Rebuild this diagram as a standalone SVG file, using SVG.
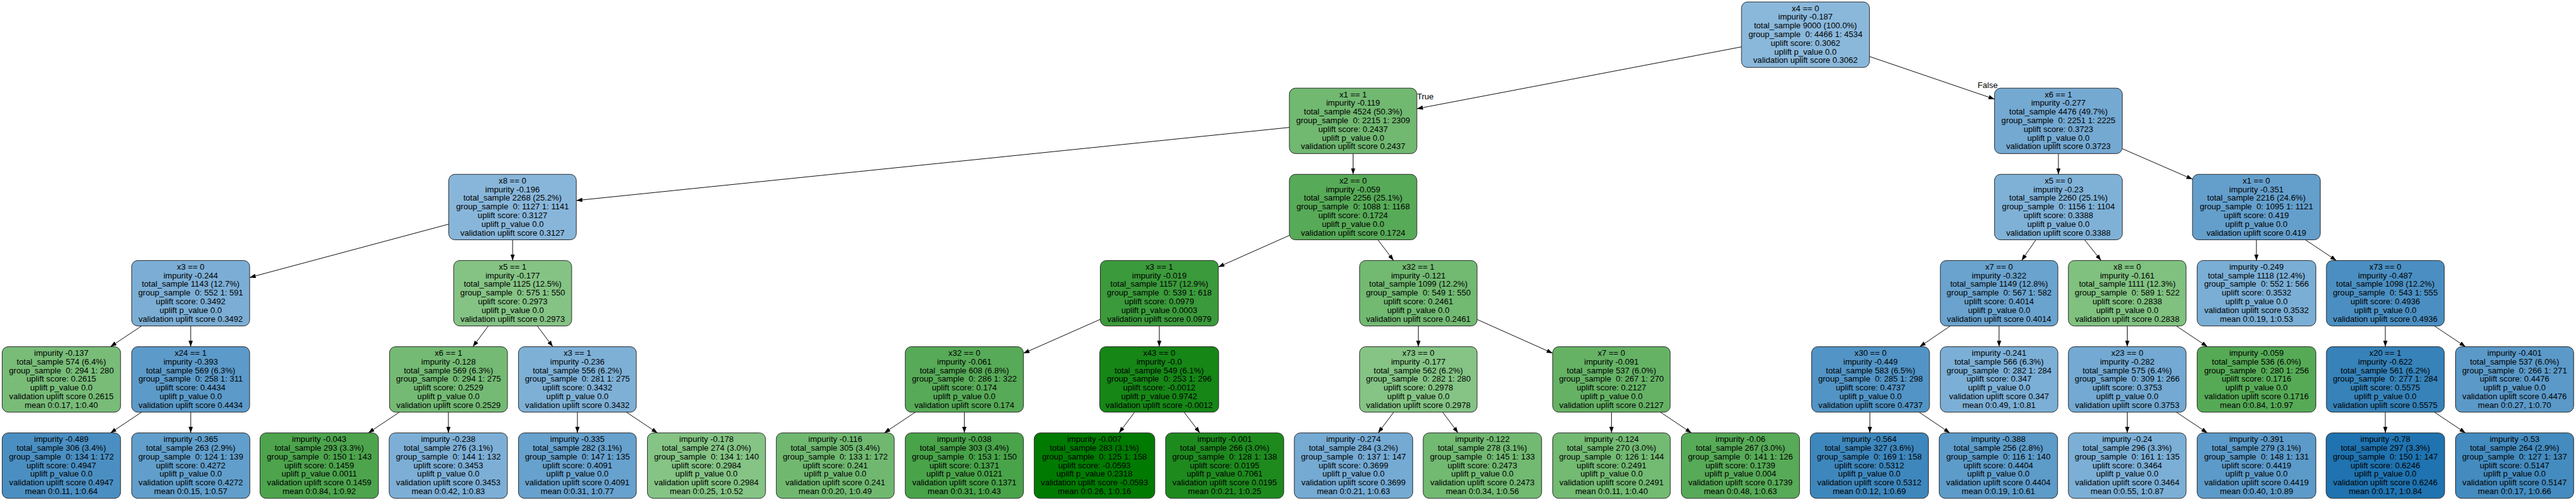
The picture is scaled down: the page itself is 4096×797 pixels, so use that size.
<svg xmlns="http://www.w3.org/2000/svg" width="4096" height="797" viewBox="0 0 4096 797">
<style>
rect{stroke:#222;stroke-width:1.4}
text{font-family:"Liberation Sans",Arial,sans-serif;font-size:19px;fill:#000;text-anchor:middle}
text.lbl{text-anchor:start}
line{stroke:#000;stroke-width:1.4;marker-end:url(#arr)}
</style>
<defs>
<marker id="arr" markerWidth="14" markerHeight="10" refX="14" refY="5" orient="auto" markerUnits="userSpaceOnUse"><path d="M0,0L14,5L0,10z" fill="#000"/></marker>
</defs>
<rect x="0" y="0" width="4096" height="797" fill="#fff" style="stroke:none"/>
<g transform="scale(0.68968)">
<g id="edges">
<line x1="4015" y1="108.1" x2="3266.6" y2="250.8"/>
<line x1="4310" y1="130.3" x2="4598.4" y2="228.6"/>
<line x1="2972.6" y1="293.9" x2="1328.7" y2="462.5"/>
<line x1="3119.6" y1="354.3" x2="3119.6" y2="402.1"/>
<line x1="4745.7" y1="354.3" x2="4745.7" y2="402.1"/>
<line x1="4893" y1="343" x2="5054.8" y2="413.4"/>
<line x1="1034.6" y1="517" x2="575.6" y2="640"/>
<line x1="1181.8" y1="553.1" x2="1181.8" y2="600.9"/>
<line x1="2972.6" y1="543" x2="2808.8" y2="615.9"/>
<line x1="3176.7" y1="553.1" x2="3212.9" y2="600.9"/>
<line x1="4693.7" y1="553.1" x2="4660.9" y2="600.9"/>
<line x1="4806" y1="553.1" x2="4844.1" y2="600.9"/>
<line x1="5202.2" y1="553.1" x2="5202.2" y2="600.9"/>
<line x1="5315" y1="553.1" x2="5386.5" y2="600.9"/>
<line x1="326.4" y1="751.9" x2="254.7" y2="799.7"/>
<line x1="439.6" y1="751.9" x2="439.6" y2="799.7"/>
<line x1="1125.8" y1="751.9" x2="1090.2" y2="799.7"/>
<line x1="1238.7" y1="751.9" x2="1274.5" y2="799.7"/>
<line x1="2536.8" y1="736.6" x2="2359.5" y2="815"/>
<line x1="2672.7" y1="751.9" x2="2672.7" y2="799.7"/>
<line x1="3270" y1="751.9" x2="3270" y2="799.7"/>
<line x1="3405.5" y1="736.9" x2="3579.7" y2="814.7"/>
<line x1="4496.4" y1="751.9" x2="4426" y2="799.7"/>
<line x1="4608.9" y1="751.9" x2="4608.9" y2="799.7"/>
<line x1="4904.4" y1="751.9" x2="4904.4" y2="799.7"/>
<line x1="5017.6" y1="751.9" x2="5089.2" y2="799.7"/>
<line x1="5499.4" y1="751.9" x2="5499.4" y2="799.7"/>
<line x1="5612.6" y1="751.9" x2="5684.2" y2="799.7"/>
<line x1="326.4" y1="950.7" x2="254.7" y2="998.5"/>
<line x1="439.7" y1="950.7" x2="439.7" y2="998.5"/>
<line x1="920.8" y1="950.7" x2="849.2" y2="998.5"/>
<line x1="1033.8" y1="950.7" x2="1033.8" y2="998.5"/>
<line x1="1331.2" y1="950.7" x2="1331.2" y2="998.5"/>
<line x1="1444.2" y1="950.7" x2="1515.8" y2="998.5"/>
<line x1="2110.3" y1="950.7" x2="2038.7" y2="998.5"/>
<line x1="2223.3" y1="950.7" x2="2223.3" y2="998.5"/>
<line x1="2615.9" y1="950.7" x2="2580" y2="998.5"/>
<line x1="2729.9" y1="950.7" x2="2766.2" y2="998.5"/>
<line x1="3213.2" y1="950.7" x2="3177.3" y2="998.5"/>
<line x1="3326.1" y1="950.7" x2="3361.6" y2="998.5"/>
<line x1="3715.3" y1="950.7" x2="3715.3" y2="998.5"/>
<line x1="3828.2" y1="950.7" x2="3899.6" y2="998.5"/>
<line x1="4311" y1="950.7" x2="4311" y2="998.5"/>
<line x1="4424.5" y1="950.7" x2="4495.4" y2="998.5"/>
<line x1="4904.4" y1="950.7" x2="4904.4" y2="998.5"/>
<line x1="5017.6" y1="950.7" x2="5089.2" y2="998.5"/>
<line x1="5499.4" y1="950.7" x2="5499.4" y2="998.5"/>
<line x1="5612.6" y1="950.7" x2="5684.2" y2="998.5"/>
<text class="lbl" x="3267" y="228.5">True</text>
<text class="lbl" x="4559.5" y="203.5">False</text>
</g>

<g id="n_root"><rect x="4015" y="4.5" width="295" height="151" rx="14" fill="#8ab8db"/><text x="4162.5" y="25.5"><tspan x="4162.5">x4 == 0</tspan><tspan x="4162.5" dy="20">impurity -0.187</tspan><tspan x="4162.5" dy="20">total_sample 9000 (100.0%)</tspan><tspan x="4162.5" dy="20">group_sample&#160; 0: 4466 1: 4534</tspan><tspan x="4162.5" dy="20">uplift score: 0.3062</tspan><tspan x="4162.5" dy="20">uplift p_value 0.0</tspan><tspan x="4162.5" dy="20">validation uplift score 0.3062</tspan></text></g>

<g id="n_A"><rect x="2972.6" y="203.3" width="294" height="151" rx="14" fill="#71b871"/><text x="3119.6" y="224.3"><tspan x="3119.6">x1 == 1</tspan><tspan x="3119.6" dy="20">impurity -0.119</tspan><tspan x="3119.6" dy="20">total_sample 4524 (50.3%)</tspan><tspan x="3119.6" dy="20">group_sample&#160; 0: 2215 1: 2309</tspan><tspan x="3119.6" dy="20">uplift score: 0.2437</tspan><tspan x="3119.6" dy="20">uplift p_value 0.0</tspan><tspan x="3119.6" dy="20">validation uplift score 0.2437</tspan></text></g>

<g id="n_B"><rect x="4598.4" y="203.3" width="294.6" height="151" rx="14" fill="#74a9d2"/><text x="4745.7" y="224.3"><tspan x="4745.7">x6 == 1</tspan><tspan x="4745.7" dy="20">impurity -0.277</tspan><tspan x="4745.7" dy="20">total_sample 4476 (49.7%)</tspan><tspan x="4745.7" dy="20">group_sample&#160; 0: 2251 1: 2225</tspan><tspan x="4745.7" dy="20">uplift score: 0.3723</tspan><tspan x="4745.7" dy="20">uplift p_value 0.0</tspan><tspan x="4745.7" dy="20">validation uplift score 0.3723</tspan></text></g>

<g id="n_C"><rect x="1034.6" y="402.1" width="294" height="151" rx="14" fill="#88b6da"/><text x="1181.6" y="423.1"><tspan x="1181.6">x8 == 0</tspan><tspan x="1181.6" dy="20">impurity -0.196</tspan><tspan x="1181.6" dy="20">total_sample 2268 (25.2%)</tspan><tspan x="1181.6" dy="20">group_sample&#160; 0: 1127 1: 1141</tspan><tspan x="1181.6" dy="20">uplift score: 0.3127</tspan><tspan x="1181.6" dy="20">uplift p_value 0.0</tspan><tspan x="1181.6" dy="20">validation uplift score 0.3127</tspan></text></g>

<g id="n_D"><rect x="2972.6" y="402.1" width="294" height="151" rx="14" fill="#57aa57"/><text x="3119.6" y="423.1"><tspan x="3119.6">x2 == 0</tspan><tspan x="3119.6" dy="20">impurity -0.059</tspan><tspan x="3119.6" dy="20">total_sample 2256 (25.1%)</tspan><tspan x="3119.6" dy="20">group_sample&#160; 0: 1088 1: 1168</tspan><tspan x="3119.6" dy="20">uplift score: 0.1724</tspan><tspan x="3119.6" dy="20">uplift p_value 0.0</tspan><tspan x="3119.6" dy="20">validation uplift score 0.1724</tspan></text></g>

<g id="n_E"><rect x="4598.4" y="402.1" width="294.6" height="151" rx="14" fill="#7fb1d7"/><text x="4745.7" y="423.1"><tspan x="4745.7">x5 == 0</tspan><tspan x="4745.7" dy="20">impurity -0.23</tspan><tspan x="4745.7" dy="20">total_sample 2260 (25.1%)</tspan><tspan x="4745.7" dy="20">group_sample&#160; 0: 1156 1: 1104</tspan><tspan x="4745.7" dy="20">uplift score: 0.3388</tspan><tspan x="4745.7" dy="20">uplift p_value 0.0</tspan><tspan x="4745.7" dy="20">validation uplift score 0.3388</tspan></text></g>

<g id="n_F"><rect x="5054.8" y="402.1" width="294.6" height="151" rx="14" fill="#649fcc"/><text x="5202.1" y="423.1"><tspan x="5202.1">x1 == 0</tspan><tspan x="5202.1" dy="20">impurity -0.351</tspan><tspan x="5202.1" dy="20">total_sample 2216 (24.6%)</tspan><tspan x="5202.1" dy="20">group_sample&#160; 0: 1095 1: 1121</tspan><tspan x="5202.1" dy="20">uplift score: 0.419</tspan><tspan x="5202.1" dy="20">uplift p_value 0.0</tspan><tspan x="5202.1" dy="20">validation uplift score 0.419</tspan></text></g>

<g id="n_G"><rect x="303.6" y="600.9" width="272" height="151" rx="14" fill="#7caed5"/><text x="439.6" y="621.9"><tspan x="439.6">x3 == 0</tspan><tspan x="439.6" dy="20">impurity -0.244</tspan><tspan x="439.6" dy="20">total_sample 1143 (12.7%)</tspan><tspan x="439.6" dy="20">group_sample&#160; 0: 552 1: 591</tspan><tspan x="439.6" dy="20">uplift score: 0.3492</tspan><tspan x="439.6" dy="20">uplift p_value 0.0</tspan><tspan x="439.6" dy="20">validation uplift score 0.3492</tspan></text></g>

<g id="n_H"><rect x="1046" y="600.9" width="272" height="151" rx="14" fill="#85c385"/><text x="1182" y="621.9"><tspan x="1182">x5 == 1</tspan><tspan x="1182" dy="20">impurity -0.177</tspan><tspan x="1182" dy="20">total_sample 1125 (12.5%)</tspan><tspan x="1182" dy="20">group_sample&#160; 0: 575 1: 550</tspan><tspan x="1182" dy="20">uplift score: 0.2973</tspan><tspan x="1182" dy="20">uplift p_value 0.0</tspan><tspan x="1182" dy="20">validation uplift score 0.2973</tspan></text></g>

<g id="n_I"><rect x="2536.8" y="600.9" width="272" height="151" rx="14" fill="#3b9a3b"/><text x="2672.8" y="621.9"><tspan x="2672.8">x3 == 1</tspan><tspan x="2672.8" dy="20">impurity -0.019</tspan><tspan x="2672.8" dy="20">total_sample 1157 (12.9%)</tspan><tspan x="2672.8" dy="20">group_sample&#160; 0: 539 1: 618</tspan><tspan x="2672.8" dy="20">uplift score: 0.0979</tspan><tspan x="2672.8" dy="20">uplift p_value 0.0003</tspan><tspan x="2672.8" dy="20">validation uplift score 0.0979</tspan></text></g>

<g id="n_J"><rect x="3134.5" y="600.9" width="271" height="151" rx="14" fill="#72b972"/><text x="3270" y="621.9"><tspan x="3270">x32 == 1</tspan><tspan x="3270" dy="20">impurity -0.121</tspan><tspan x="3270" dy="20">total_sample 1099 (12.2%)</tspan><tspan x="3270" dy="20">group_sample&#160; 0: 549 1: 550</tspan><tspan x="3270" dy="20">uplift score: 0.2461</tspan><tspan x="3270" dy="20">uplift p_value 0.0</tspan><tspan x="3270" dy="20">validation uplift score 0.2461</tspan></text></g>

<g id="n_K"><rect x="4473.4" y="600.9" width="271" height="151" rx="14" fill="#6aa3ce"/><text x="4608.9" y="621.9"><tspan x="4608.9">x7 == 0</tspan><tspan x="4608.9" dy="20">impurity -0.322</tspan><tspan x="4608.9" dy="20">total_sample 1149 (12.8%)</tspan><tspan x="4608.9" dy="20">group_sample&#160; 0: 567 1: 582</tspan><tspan x="4608.9" dy="20">uplift score: 0.4014</tspan><tspan x="4608.9" dy="20">uplift p_value 0.0</tspan><tspan x="4608.9" dy="20">validation uplift score 0.4014</tspan></text></g>

<g id="n_L"><rect x="4768.7" y="600.9" width="271.3" height="151" rx="14" fill="#80c180"/><text x="4904.4" y="621.9"><tspan x="4904.4">x8 == 0</tspan><tspan x="4904.4" dy="20">impurity -0.161</tspan><tspan x="4904.4" dy="20">total_sample 1111 (12.3%)</tspan><tspan x="4904.4" dy="20">group_sample&#160; 0: 589 1: 522</tspan><tspan x="4904.4" dy="20">uplift score: 0.2838</tspan><tspan x="4904.4" dy="20">uplift p_value 0.0</tspan><tspan x="4904.4" dy="20">validation uplift score 0.2838</tspan></text></g>

<g id="n_M"><rect x="5065.6" y="600.9" width="273.6" height="151" rx="14" fill="#7aaed5"/><text x="5202.4" y="621.9"><tspan x="5202.4">impurity -0.249</tspan><tspan x="5202.4" dy="20">total_sample 1118 (12.4%)</tspan><tspan x="5202.4" dy="20">group_sample&#160; 0: 552 1: 566</tspan><tspan x="5202.4" dy="20">uplift score: 0.3532</tspan><tspan x="5202.4" dy="20">uplift p_value 0.0</tspan><tspan x="5202.4" dy="20">validation uplift score 0.3532</tspan><tspan x="5202.4" dy="20">mean 0:0.19, 1:0.53</tspan></text></g>

<g id="n_N"><rect x="5363.5" y="600.9" width="271.7" height="151" rx="14" fill="#4b8fc2"/><text x="5499.4" y="621.9"><tspan x="5499.4">x73 == 0</tspan><tspan x="5499.4" dy="20">impurity -0.487</tspan><tspan x="5499.4" dy="20">total_sample 1098 (12.2%)</tspan><tspan x="5499.4" dy="20">group_sample&#160; 0: 543 1: 555</tspan><tspan x="5499.4" dy="20">uplift score: 0.4936</tspan><tspan x="5499.4" dy="20">uplift p_value 0.0</tspan><tspan x="5499.4" dy="20">validation uplift score 0.4936</tspan></text></g>

<g id="n_O"><rect x="5" y="799.7" width="273" height="151" rx="14" fill="#78bc78"/><text x="141.5" y="820.7"><tspan x="141.5">impurity -0.137</tspan><tspan x="141.5" dy="20">total_sample 574 (6.4%)</tspan><tspan x="141.5" dy="20">group_sample&#160; 0: 294 1: 280</tspan><tspan x="141.5" dy="20">uplift score: 0.2615</tspan><tspan x="141.5" dy="20">uplift p_value 0.0</tspan><tspan x="141.5" dy="20">validation uplift score 0.2615</tspan><tspan x="141.5" dy="20">mean 0:0.17, 1:0.40</tspan></text></g>

<g id="n_P"><rect x="303.6" y="799.7" width="272" height="151" rx="14" fill="#5c9ac9"/><text x="439.6" y="820.7"><tspan x="439.6">x24 == 1</tspan><tspan x="439.6" dy="20">impurity -0.393</tspan><tspan x="439.6" dy="20">total_sample 569 (6.3%)</tspan><tspan x="439.6" dy="20">group_sample&#160; 0: 258 1: 311</tspan><tspan x="439.6" dy="20">uplift score: 0.4434</tspan><tspan x="439.6" dy="20">uplift p_value 0.0</tspan><tspan x="439.6" dy="20">validation uplift score 0.4434</tspan></text></g>

<g id="n_Q"><rect x="898" y="799.7" width="272" height="151" rx="14" fill="#74ba74"/><text x="1034" y="820.7"><tspan x="1034">x6 == 1</tspan><tspan x="1034" dy="20">impurity -0.128</tspan><tspan x="1034" dy="20">total_sample 569 (6.3%)</tspan><tspan x="1034" dy="20">group_sample&#160; 0: 294 1: 275</tspan><tspan x="1034" dy="20">uplift score: 0.2529</tspan><tspan x="1034" dy="20">uplift p_value 0.0</tspan><tspan x="1034" dy="20">validation uplift score 0.2529</tspan></text></g>

<g id="n_S"><rect x="1195.4" y="799.7" width="271.6" height="151" rx="14" fill="#7eb0d6"/><text x="1331.2" y="820.7"><tspan x="1331.2">x3 == 1</tspan><tspan x="1331.2" dy="20">impurity -0.236</tspan><tspan x="1331.2" dy="20">total_sample 556 (6.2%)</tspan><tspan x="1331.2" dy="20">group_sample&#160; 0: 281 1: 275</tspan><tspan x="1331.2" dy="20">uplift score: 0.3432</tspan><tspan x="1331.2" dy="20">uplift p_value 0.0</tspan><tspan x="1331.2" dy="20">validation uplift score 0.3432</tspan></text></g>

<g id="n_T"><rect x="2087" y="799.7" width="272.5" height="151" rx="14" fill="#57aa57"/><text x="2223.3" y="820.7"><tspan x="2223.3">x32 == 0</tspan><tspan x="2223.3" dy="20">impurity -0.061</tspan><tspan x="2223.3" dy="20">total_sample 608 (6.8%)</tspan><tspan x="2223.3" dy="20">group_sample&#160; 0: 286 1: 322</tspan><tspan x="2223.3" dy="20">uplift score: 0.174</tspan><tspan x="2223.3" dy="20">uplift p_value 0.0</tspan><tspan x="2223.3" dy="20">validation uplift score 0.174</tspan></text></g>

<g id="n_U"><rect x="2535.5" y="799.7" width="274.2" height="151" rx="14" fill="#168616"/><text x="2672.6" y="820.7"><tspan x="2672.6">x43 == 0</tspan><tspan x="2672.6" dy="20">impurity -0.0</tspan><tspan x="2672.6" dy="20">total_sample 549 (6.1%)</tspan><tspan x="2672.6" dy="20">group_sample&#160; 0: 253 1: 296</tspan><tspan x="2672.6" dy="20">uplift score: -0.0012</tspan><tspan x="2672.6" dy="20">uplift p_value 0.9742</tspan><tspan x="2672.6" dy="20">validation uplift score -0.0012</tspan></text></g>

<g id="n_V"><rect x="3134.5" y="799.7" width="271" height="151" rx="14" fill="#85c485"/><text x="3270" y="820.7"><tspan x="3270">x73 == 0</tspan><tspan x="3270" dy="20">impurity -0.177</tspan><tspan x="3270" dy="20">total_sample 562 (6.2%)</tspan><tspan x="3270" dy="20">group_sample&#160; 0: 282 1: 280</tspan><tspan x="3270" dy="20">uplift score: 0.2978</tspan><tspan x="3270" dy="20">uplift p_value 0.0</tspan><tspan x="3270" dy="20">validation uplift score 0.2978</tspan></text></g>

<g id="n_W"><rect x="3579.7" y="799.7" width="271" height="151" rx="14" fill="#65b265"/><text x="3715.2" y="820.7"><tspan x="3715.2">x7 == 0</tspan><tspan x="3715.2" dy="20">impurity -0.091</tspan><tspan x="3715.2" dy="20">total_sample 537 (6.0%)</tspan><tspan x="3715.2" dy="20">group_sample&#160; 0: 267 1: 270</tspan><tspan x="3715.2" dy="20">uplift score: 0.2127</tspan><tspan x="3715.2" dy="20">uplift p_value 0.0</tspan><tspan x="3715.2" dy="20">validation uplift score 0.2127</tspan></text></g>

<g id="n_X"><rect x="4176.8" y="799.7" width="271.7" height="151" rx="14" fill="#5294c5"/><text x="4312.6" y="820.7"><tspan x="4312.6">x30 == 0</tspan><tspan x="4312.6" dy="20">impurity -0.449</tspan><tspan x="4312.6" dy="20">total_sample 583 (6.5%)</tspan><tspan x="4312.6" dy="20">group_sample&#160; 0: 285 1: 298</tspan><tspan x="4312.6" dy="20">uplift score: 0.4737</tspan><tspan x="4312.6" dy="20">uplift p_value 0.0</tspan><tspan x="4312.6" dy="20">validation uplift score 0.4737</tspan></text></g>

<g id="n_Y"><rect x="4473.4" y="799.7" width="271" height="151" rx="14" fill="#7cafd6"/><text x="4608.9" y="820.7"><tspan x="4608.9">impurity -0.241</tspan><tspan x="4608.9" dy="20">total_sample 566 (6.3%)</tspan><tspan x="4608.9" dy="20">group_sample&#160; 0: 282 1: 284</tspan><tspan x="4608.9" dy="20">uplift score: 0.347</tspan><tspan x="4608.9" dy="20">uplift p_value 0.0</tspan><tspan x="4608.9" dy="20">validation uplift score 0.347</tspan><tspan x="4608.9" dy="20">mean 0:0.49, 1:0.81</tspan></text></g>

<g id="n_Z"><rect x="4768.7" y="799.7" width="271.3" height="151" rx="14" fill="#73a9d2"/><text x="4904.4" y="820.7"><tspan x="4904.4">x23 == 0</tspan><tspan x="4904.4" dy="20">impurity -0.282</tspan><tspan x="4904.4" dy="20">total_sample 575 (6.4%)</tspan><tspan x="4904.4" dy="20">group_sample&#160; 0: 309 1: 266</tspan><tspan x="4904.4" dy="20">uplift score: 0.3753</tspan><tspan x="4904.4" dy="20">uplift p_value 0.0</tspan><tspan x="4904.4" dy="20">validation uplift score 0.3753</tspan></text></g>

<g id="n_AA"><rect x="5065.6" y="799.7" width="273.6" height="151" rx="14" fill="#56aa56"/><text x="5202.4" y="820.7"><tspan x="5202.4">impurity -0.059</tspan><tspan x="5202.4" dy="20">total_sample 536 (6.0%)</tspan><tspan x="5202.4" dy="20">group_sample&#160; 0: 280 1: 256</tspan><tspan x="5202.4" dy="20">uplift score: 0.1716</tspan><tspan x="5202.4" dy="20">uplift p_value 0.0</tspan><tspan x="5202.4" dy="20">validation uplift score 0.1716</tspan><tspan x="5202.4" dy="20">mean 0:0.84, 1:0.97</tspan></text></g>

<g id="n_AB"><rect x="5363.5" y="799.7" width="271.7" height="151" rx="14" fill="#3682b9"/><text x="5499.4" y="820.7"><tspan x="5499.4">x20 == 1</tspan><tspan x="5499.4" dy="20">impurity -0.622</tspan><tspan x="5499.4" dy="20">total_sample 561 (6.2%)</tspan><tspan x="5499.4" dy="20">group_sample&#160; 0: 277 1: 284</tspan><tspan x="5499.4" dy="20">uplift score: 0.5575</tspan><tspan x="5499.4" dy="20">uplift p_value 0.0</tspan><tspan x="5499.4" dy="20">validation uplift score 0.5575</tspan></text></g>

<g id="n_AC"><rect x="5661.3" y="799.7" width="272.3" height="151" rx="14" fill="#5b99c8"/><text x="5797.4" y="820.7"><tspan x="5797.4">impurity -0.401</tspan><tspan x="5797.4" dy="20">total_sample 537 (6.0%)</tspan><tspan x="5797.4" dy="20">group_sample&#160; 0: 266 1: 271</tspan><tspan x="5797.4" dy="20">uplift score: 0.4476</tspan><tspan x="5797.4" dy="20">uplift p_value 0.0</tspan><tspan x="5797.4" dy="20">validation uplift score 0.4476</tspan><tspan x="5797.4" dy="20">mean 0:0.27, 1:0.70</tspan></text></g>

<g id="n_L1"><rect x="5" y="998.5" width="273" height="151" rx="14" fill="#4b8fc2"/><text x="141.5" y="1019.5"><tspan x="141.5">impurity -0.489</tspan><tspan x="141.5" dy="20">total_sample 306 (3.4%)</tspan><tspan x="141.5" dy="20">group_sample&#160; 0: 134 1: 172</tspan><tspan x="141.5" dy="20">uplift score: 0.4947</tspan><tspan x="141.5" dy="20">uplift p_value 0.0</tspan><tspan x="141.5" dy="20">validation uplift score 0.4947</tspan><tspan x="141.5" dy="20">mean 0:0.11, 1:0.64</tspan></text></g>

<g id="n_L2"><rect x="303.6" y="998.5" width="272.4" height="151" rx="14" fill="#619ecb"/><text x="439.8" y="1019.5"><tspan x="439.8">impurity -0.365</tspan><tspan x="439.8" dy="20">total_sample 263 (2.9%)</tspan><tspan x="439.8" dy="20">group_sample&#160; 0: 124 1: 139</tspan><tspan x="439.8" dy="20">uplift score: 0.4272</tspan><tspan x="439.8" dy="20">uplift p_value 0.0</tspan><tspan x="439.8" dy="20">validation uplift score 0.4272</tspan><tspan x="439.8" dy="20">mean 0:0.15, 1:0.57</tspan></text></g>

<g id="n_L3"><rect x="599.5" y="998.5" width="273" height="151" rx="14" fill="#4da44d"/><text x="736" y="1019.5"><tspan x="736">impurity -0.043</tspan><tspan x="736" dy="20">total_sample 293 (3.3%)</tspan><tspan x="736" dy="20">group_sample&#160; 0: 150 1: 143</tspan><tspan x="736" dy="20">uplift score: 0.1459</tspan><tspan x="736" dy="20">uplift p_value 0.0011</tspan><tspan x="736" dy="20">validation uplift score 0.1459</tspan><tspan x="736" dy="20">mean 0:0.84, 1:0.92</tspan></text></g>

<g id="n_L4"><rect x="897.3" y="998.5" width="272.5" height="151" rx="14" fill="#7dafd6"/><text x="1033.6" y="1019.5"><tspan x="1033.6">impurity -0.238</tspan><tspan x="1033.6" dy="20">total_sample 276 (3.1%)</tspan><tspan x="1033.6" dy="20">group_sample&#160; 0: 144 1: 132</tspan><tspan x="1033.6" dy="20">uplift score: 0.3453</tspan><tspan x="1033.6" dy="20">uplift p_value 0.0</tspan><tspan x="1033.6" dy="20">validation uplift score 0.3453</tspan><tspan x="1033.6" dy="20">mean 0:0.42, 1:0.83</tspan></text></g>

<g id="n_L5"><rect x="1195.4" y="998.5" width="271.6" height="151" rx="14" fill="#67a1cd"/><text x="1331.2" y="1019.5"><tspan x="1331.2">impurity -0.335</tspan><tspan x="1331.2" dy="20">total_sample 282 (3.1%)</tspan><tspan x="1331.2" dy="20">group_sample&#160; 0: 147 1: 135</tspan><tspan x="1331.2" dy="20">uplift score: 0.4091</tspan><tspan x="1331.2" dy="20">uplift p_value 0.0</tspan><tspan x="1331.2" dy="20">validation uplift score 0.4091</tspan><tspan x="1331.2" dy="20">mean 0:0.31, 1:0.77</tspan></text></g>

<g id="n_L6"><rect x="1492.6" y="998.5" width="272.3" height="151" rx="14" fill="#85c485"/><text x="1628.8" y="1019.5"><tspan x="1628.8">impurity -0.178</tspan><tspan x="1628.8" dy="20">total_sample 274 (3.0%)</tspan><tspan x="1628.8" dy="20">group_sample&#160; 0: 134 1: 140</tspan><tspan x="1628.8" dy="20">uplift score: 0.2984</tspan><tspan x="1628.8" dy="20">uplift p_value 0.0</tspan><tspan x="1628.8" dy="20">validation uplift score 0.2984</tspan><tspan x="1628.8" dy="20">mean 0:0.25, 1:0.52</tspan></text></g>

<g id="n_L7"><rect x="1789.7" y="998.5" width="272" height="151" rx="14" fill="#70b870"/><text x="1925.7" y="1019.5"><tspan x="1925.7">impurity -0.116</tspan><tspan x="1925.7" dy="20">total_sample 305 (3.4%)</tspan><tspan x="1925.7" dy="20">group_sample&#160; 0: 133 1: 172</tspan><tspan x="1925.7" dy="20">uplift score: 0.241</tspan><tspan x="1925.7" dy="20">uplift p_value 0.0</tspan><tspan x="1925.7" dy="20">validation uplift score 0.241</tspan><tspan x="1925.7" dy="20">mean 0:0.20, 1:0.49</tspan></text></g>

<g id="n_L8"><rect x="2087" y="998.5" width="272.5" height="151" rx="14" fill="#49a349"/><text x="2223.3" y="1019.5"><tspan x="2223.3">impurity -0.038</tspan><tspan x="2223.3" dy="20">total_sample 303 (3.4%)</tspan><tspan x="2223.3" dy="20">group_sample&#160; 0: 153 1: 150</tspan><tspan x="2223.3" dy="20">uplift score: 0.1371</tspan><tspan x="2223.3" dy="20">uplift p_value 0.0121</tspan><tspan x="2223.3" dy="20">validation uplift score 0.1371</tspan><tspan x="2223.3" dy="20">mean 0:0.31, 1:0.43</tspan></text></g>

<g id="n_L9"><rect x="2384.3" y="998.5" width="278" height="151" rx="14" fill="#007a00"/><text x="2523.3" y="1019.5"><tspan x="2523.3">impurity -0.007</tspan><tspan x="2523.3" dy="20">total_sample 283 (3.1%)</tspan><tspan x="2523.3" dy="20">group_sample&#160; 0: 125 1: 158</tspan><tspan x="2523.3" dy="20">uplift score: -0.0593</tspan><tspan x="2523.3" dy="20">uplift p_value 0.2318</tspan><tspan x="2523.3" dy="20">validation uplift score -0.0593</tspan><tspan x="2523.3" dy="20">mean 0:0.26, 1:0.16</tspan></text></g>

<g id="n_L10"><rect x="2687.3" y="998.5" width="272.3" height="151" rx="14" fill="#1e8a1e"/><text x="2823.5" y="1019.5"><tspan x="2823.5">impurity -0.001</tspan><tspan x="2823.5" dy="20">total_sample 266 (3.0%)</tspan><tspan x="2823.5" dy="20">group_sample&#160; 0: 128 1: 138</tspan><tspan x="2823.5" dy="20">uplift score: 0.0195</tspan><tspan x="2823.5" dy="20">uplift p_value 0.7061</tspan><tspan x="2823.5" dy="20">validation uplift score 0.0195</tspan><tspan x="2823.5" dy="20">mean 0:0.21, 1:0.25</tspan></text></g>

<g id="n_L11"><rect x="2984" y="998.5" width="273" height="151" rx="14" fill="#75aad3"/><text x="3120.5" y="1019.5"><tspan x="3120.5">impurity -0.274</tspan><tspan x="3120.5" dy="20">total_sample 284 (3.2%)</tspan><tspan x="3120.5" dy="20">group_sample&#160; 0: 137 1: 147</tspan><tspan x="3120.5" dy="20">uplift score: 0.3699</tspan><tspan x="3120.5" dy="20">uplift p_value 0.0</tspan><tspan x="3120.5" dy="20">validation uplift score 0.3699</tspan><tspan x="3120.5" dy="20">mean 0:0.21, 1:0.63</tspan></text></g>

<g id="n_L12"><rect x="3281.2" y="998.5" width="273" height="151" rx="14" fill="#72b972"/><text x="3417.7" y="1019.5"><tspan x="3417.7">impurity -0.122</tspan><tspan x="3417.7" dy="20">total_sample 278 (3.1%)</tspan><tspan x="3417.7" dy="20">group_sample&#160; 0: 145 1: 133</tspan><tspan x="3417.7" dy="20">uplift score: 0.2473</tspan><tspan x="3417.7" dy="20">uplift p_value 0.0</tspan><tspan x="3417.7" dy="20">validation uplift score 0.2473</tspan><tspan x="3417.7" dy="20">mean 0:0.34, 1:0.56</tspan></text></g>

<g id="n_L13"><rect x="3579.7" y="998.5" width="271.3" height="151" rx="14" fill="#73ba73"/><text x="3715.4" y="1019.5"><tspan x="3715.4">impurity -0.124</tspan><tspan x="3715.4" dy="20">total_sample 270 (3.0%)</tspan><tspan x="3715.4" dy="20">group_sample&#160; 0: 126 1: 144</tspan><tspan x="3715.4" dy="20">uplift score: 0.2491</tspan><tspan x="3715.4" dy="20">uplift p_value 0.0</tspan><tspan x="3715.4" dy="20">validation uplift score 0.2491</tspan><tspan x="3715.4" dy="20">mean 0:0.11, 1:0.40</tspan></text></g>

<g id="n_L14"><rect x="3876.3" y="998.5" width="272.5" height="151" rx="14" fill="#57aa57"/><text x="4012.6" y="1019.5"><tspan x="4012.6">impurity -0.06</tspan><tspan x="4012.6" dy="20">total_sample 267 (3.0%)</tspan><tspan x="4012.6" dy="20">group_sample&#160; 0: 141 1: 126</tspan><tspan x="4012.6" dy="20">uplift score: 0.1739</tspan><tspan x="4012.6" dy="20">uplift p_value 0.004</tspan><tspan x="4012.6" dy="20">validation uplift score 0.1739</tspan><tspan x="4012.6" dy="20">mean 0:0.48, 1:0.63</tspan></text></g>

<g id="n_L15"><rect x="4173.6" y="998.5" width="272.4" height="151" rx="14" fill="#3e87bd"/><text x="4309.8" y="1019.5"><tspan x="4309.8">impurity -0.564</tspan><tspan x="4309.8" dy="20">total_sample 327 (3.6%)</tspan><tspan x="4309.8" dy="20">group_sample&#160; 0: 169 1: 158</tspan><tspan x="4309.8" dy="20">uplift score: 0.5312</tspan><tspan x="4309.8" dy="20">uplift p_value 0.0</tspan><tspan x="4309.8" dy="20">validation uplift score 0.5312</tspan><tspan x="4309.8" dy="20">mean 0:0.12, 1:0.69</tspan></text></g>

<g id="n_L16"><rect x="4470.8" y="998.5" width="273" height="151" rx="14" fill="#5d9bc9"/><text x="4607.3" y="1019.5"><tspan x="4607.3">impurity -0.388</tspan><tspan x="4607.3" dy="20">total_sample 256 (2.8%)</tspan><tspan x="4607.3" dy="20">group_sample&#160; 0: 116 1: 140</tspan><tspan x="4607.3" dy="20">uplift score: 0.4404</tspan><tspan x="4607.3" dy="20">uplift p_value 0.0</tspan><tspan x="4607.3" dy="20">validation uplift score 0.4404</tspan><tspan x="4607.3" dy="20">mean 0:0.19, 1:0.61</tspan></text></g>

<g id="n_L17"><rect x="4768.7" y="998.5" width="271.3" height="151" rx="14" fill="#7cafd6"/><text x="4904.4" y="1019.5"><tspan x="4904.4">impurity -0.24</tspan><tspan x="4904.4" dy="20">total_sample 296 (3.3%)</tspan><tspan x="4904.4" dy="20">group_sample&#160; 0: 161 1: 135</tspan><tspan x="4904.4" dy="20">uplift score: 0.3464</tspan><tspan x="4904.4" dy="20">uplift p_value 0.0</tspan><tspan x="4904.4" dy="20">validation uplift score 0.3464</tspan><tspan x="4904.4" dy="20">mean 0:0.55, 1:0.87</tspan></text></g>

<g id="n_L18"><rect x="5065.6" y="998.5" width="273.6" height="151" rx="14" fill="#5c9ac9"/><text x="5202.4" y="1019.5"><tspan x="5202.4">impurity -0.391</tspan><tspan x="5202.4" dy="20">total_sample 279 (3.1%)</tspan><tspan x="5202.4" dy="20">group_sample&#160; 0: 148 1: 131</tspan><tspan x="5202.4" dy="20">uplift score: 0.4419</tspan><tspan x="5202.4" dy="20">uplift p_value 0.0</tspan><tspan x="5202.4" dy="20">validation uplift score 0.4419</tspan><tspan x="5202.4" dy="20">mean 0:0.40, 1:0.89</tspan></text></g>

<g id="n_L19"><rect x="5363" y="998.5" width="273" height="151" rx="14" fill="#1f73b0"/><text x="5499.5" y="1019.5"><tspan x="5499.5">impurity -0.78</tspan><tspan x="5499.5" dy="20">total_sample 297 (3.3%)</tspan><tspan x="5499.5" dy="20">group_sample&#160; 0: 150 1: 147</tspan><tspan x="5499.5" dy="20">uplift score: 0.6246</tspan><tspan x="5499.5" dy="20">uplift p_value 0.0</tspan><tspan x="5499.5" dy="20">validation uplift score 0.6246</tspan><tspan x="5499.5" dy="20">mean 0:0.17, 1:0.84</tspan></text></g>

<g id="n_L20"><rect x="5661.3" y="998.5" width="272.3" height="151" rx="14" fill="#448bbf"/><text x="5797.4" y="1019.5"><tspan x="5797.4">impurity -0.53</tspan><tspan x="5797.4" dy="20">total_sample 264 (2.9%)</tspan><tspan x="5797.4" dy="20">group_sample&#160; 0: 127 1: 137</tspan><tspan x="5797.4" dy="20">uplift score: 0.5147</tspan><tspan x="5797.4" dy="20">uplift p_value 0.0</tspan><tspan x="5797.4" dy="20">validation uplift score 0.5147</tspan><tspan x="5797.4" dy="20">mean 0:0.17, 1:0.66</tspan></text></g>
</g>
</svg>
